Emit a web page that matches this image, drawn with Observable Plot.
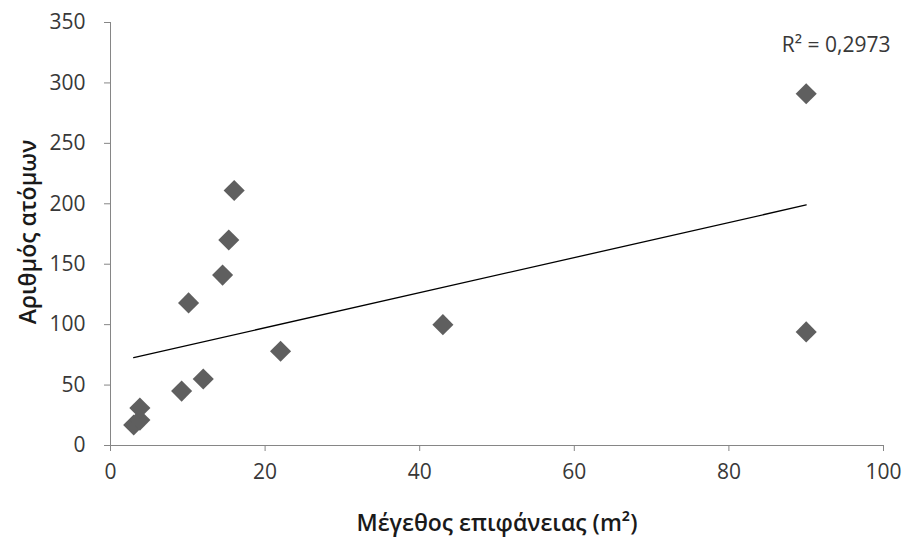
<!DOCTYPE html>
<html>
<head>
<meta charset="utf-8">
<script src="https://cdn.jsdelivr.net/npm/d3@7"></script>
<script src="https://cdn.jsdelivr.net/npm/@observablehq/plot@0.6"></script>
<style>
  html, body { margin: 0; padding: 0; background: #ffffff; }
</style>
</head>
<body>
<div id="chart"></div>
<script>
const areaM2 = [3, 3.8, 3.8, 9.2, 12, 10.1, 14.5, 15.3, 16, 22, 43, 90, 90];
const persons = [17, 21, 31, 45, 55, 118, 141, 170, 211, 78, 100, 291, 94];
const xTicks = [0, 20, 40, 60, 80, 100];
const yTicks = [0, 50, 100, 150, 200, 250, 300, 350];
const xLabel = "Μέγεθος επιφάνειας (m²)";
const yLabel = "Αριθμός ατόμων";
const r2Label = "R² = 0,2973";

const data = areaM2.map((x, i) => ({x, y: persons[i]}));

const chart = Plot.plot({
  width: 908,
  height: 540,
  marginLeft: 110,
  marginRight: 25,
  marginTop: 22,
  marginBottom: 95,
  style: {fontFamily: "'Open Sans', Lato, sans-serif", fontSize: "21px", color: "#383838", background: "#ffffff"},
  x: {domain: [0, 100]},
  y: {domain: [0, 350]},
  marks: [
    Plot.axisX({ticks: xTicks, tickSize: 6, tickPadding: 13, stroke: "#868686", label: null}),
    Plot.axisY({ticks: yTicks, tickSize: 6, tickPadding: 19, stroke: "#868686", label: null}),
    Plot.ruleX([0], {stroke: "#868686"}),
    Plot.ruleY([0], {stroke: "#868686"}),
    Plot.linearRegressionY(data, {x: "x", y: "y", stroke: "#000000", strokeWidth: 1.3, ci: 0}),
    Plot.dot(data, {x: "x", y: "y", symbol: "diamond2", r: 9.5, fill: "#5f5f5f", stroke: null}),
    Plot.text([r2Label], {frameAnchor: "top-right", dx: 7, dy: 23, textAnchor: "end", lineAnchor: "middle", fill: "#383838", fontSize: 21}),
    Plot.text([yLabel], {frameAnchor: "left", dx: -82, dy: -2, rotate: -90, textAnchor: "middle", lineAnchor: "middle", fontWeight: 600, fill: "#1a1a1a", fontSize: 23}),
    Plot.text([xLabel], {frameAnchor: "bottom", dy: 78, textAnchor: "middle", lineAnchor: "middle", fontWeight: 600, fill: "#1a1a1a", fontSize: 23})
  ]
});
document.getElementById("chart").appendChild(chart);
</script>
</body>
</html>
